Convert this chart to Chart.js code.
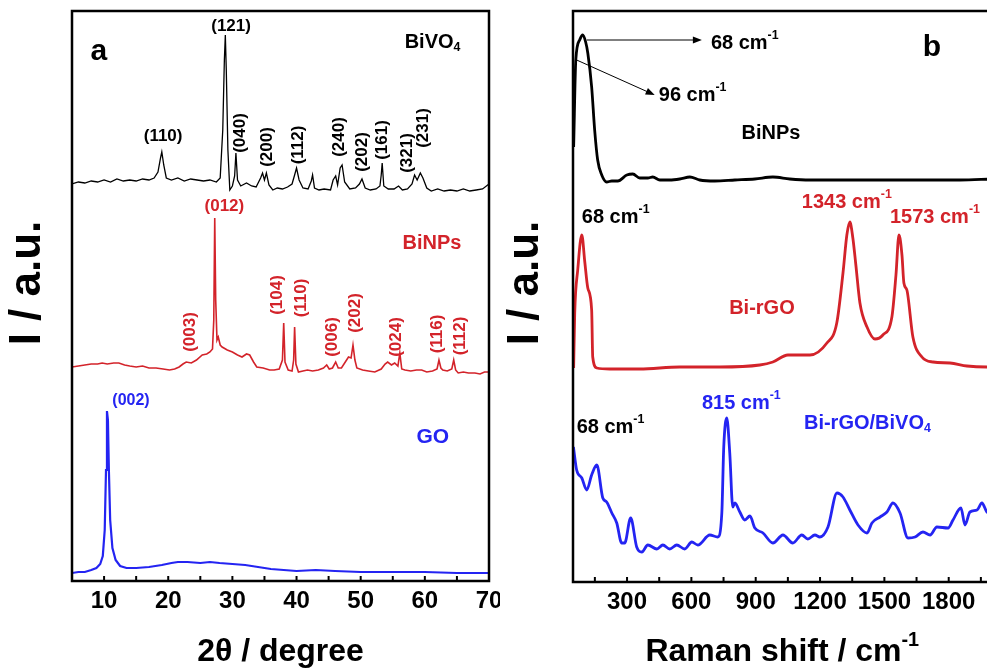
<!DOCTYPE html>
<html>
<head>
<meta charset="utf-8">
<script src="https://cdn.jsdelivr.net/npm/chart.js@4.4.1/dist/chart.umd.min.js"></script>
<style>
  html, body { margin: 0; padding: 0; background: #fff; overflow: hidden; width: 987px; height: 669px; }
  #left { position: absolute; left: 0; top: 0; }
  #right { position: absolute; left: 500px; top: 0; }
</style>
</head>
<body>
<canvas id="left" width="500" height="669"></canvas>
<canvas id="right" width="500" height="669"></canvas>
<script>
// (a) XRD - 2theta / degree, intensities offset per pattern (arbitrary units)
const xrdTicks = [10, 20, 30, 40, 50, 60, 70];

const bivo4Theta = [5, 6, 7, 8, 9, 10, 11, 12, 13, 14, 15, 16, 17, 17.8, 18.4, 18.8, 19.0, 19.3, 19.7, 20.5,
  21.5, 22.5, 23.5, 24.5, 25.5, 26.5, 27.5, 28.1, 28.5, 28.75, 28.9, 29.05, 29.3, 29.6, 30.0, 30.35,
  30.55, 30.8, 31.3, 32.2, 33.0, 33.7, 34.4, 34.7, 35.0, 35.3, 35.7, 36.3, 37.0, 37.8, 38.6, 39.3,
  39.7, 40.0, 40.4, 41.0, 41.8, 42.3, 42.5, 42.8, 43.5, 44.3, 45.3, 45.7, 46.1, 46.4, 46.8, 47.1,
  47.5, 48.3, 49.2, 49.8, 50.2, 50.7, 51.5, 52.4, 53.0, 53.2, 53.35, 53.6, 54.3, 55.2, 55.9, 56.5,
  57.3, 58.0, 58.4, 58.8, 59.3, 59.7, 60.3, 61, 62, 63, 64, 65, 66, 67, 68, 69, 70];
const bivo4I = [397, 399, 398, 400, 399, 401, 399, 402, 400, 401, 400, 402, 401, 403, 409, 423, 429, 416, 403, 401,
  403, 400, 402, 401, 400, 401, 399, 403, 451, 521, 546, 511, 431, 391, 395, 405,
  428, 401, 395, 398, 395, 394, 403, 408, 401, 408, 396, 391, 393, 392, 394, 397,
  406, 413, 401, 393, 392, 400, 406, 393, 391, 392, 391, 401, 405, 396, 413, 416,
  399, 392, 393, 397, 402, 393, 391, 392, 395, 406, 418, 395, 392, 392, 395, 391,
  392, 397, 406, 401, 408, 403, 393, 390, 392, 390, 391, 390, 392, 390, 391, 392, 397];

const binpsTheta = [5, 6, 7, 8, 9, 9.7, 10.5, 11.5, 12.3, 13.2, 14, 15, 16, 17, 18.1, 19.2, 20.2, 21, 21.7, 22.3,
  22.8, 23.6, 24.4, 25.3, 26.0, 26.5, 26.9, 27.1, 27.25, 27.4, 27.6, 27.8, 28.1, 28.4, 29.2, 30.0,
  30.8, 31.5, 32.2, 32.7, 33.3, 33.8, 34.8, 35.8, 36.5, 37.3, 37.8, 38.0, 38.2, 38.7, 39.3, 39.55,
  39.7, 39.9, 40.3, 41.0, 41.7, 42.5, 43.4, 44.2, 44.7, 45.1, 45.6, 46.1, 46.5, 47.0, 47.6, 48.1,
  48.5, 48.8, 49.1, 49.4, 50.3, 51.2, 52.2, 53.2, 53.8, 54.2, 54.8, 55.3, 55.8, 56.1, 56.4, 56.9,
  57.8, 58.7, 59.5, 60.3, 61.2, 61.9, 62.2, 62.5, 62.8, 63.5, 64.2, 64.5, 64.8, 65.2, 66.0, 66.8,
  67.8, 68.6, 69.3, 70];
const binpsI = [214, 215, 216, 217, 217, 218, 217, 218, 218, 216, 215, 214, 215, 213, 213, 212, 211, 212, 214, 217,
  219, 218, 221, 226, 227, 229, 232, 261, 363, 281, 241, 244, 236, 234, 231, 229,
  226, 224, 227, 226, 219, 214, 213, 211, 211, 212, 221, 258, 219, 211, 210, 221,
  254, 217, 209, 210, 211, 210, 211, 213, 216, 212, 213, 219, 213, 213, 219, 224,
  223, 236, 221, 213, 211, 210, 209, 212, 217, 219, 216, 218, 215, 228, 212, 211,
  210, 211, 211, 209, 210, 212, 221, 213, 211, 210, 212, 221, 211, 208, 209, 208,
  208, 207, 209, 209];

const goTheta = [5, 6, 7, 8, 8.8, 9.4, 9.8, 10.1, 10.3, 10.45, 10.6, 10.75, 10.95, 11.3, 11.8, 12.5, 13.5, 15, 17, 19,
  20.5, 21.5, 23, 25, 26.5, 28, 30, 32, 34, 36, 38, 40, 43, 46, 50, 55, 60, 65, 70];
const goI = [8, 9, 9, 11, 13, 17, 25, 51, 111, 170, 161, 111, 61, 33, 21, 15, 13, 13, 14, 16,
  18, 19, 19, 18, 19, 18, 17, 16, 14, 12, 11, 10, 11, 10, 9, 9, 9, 8, 8];

// (b) Raman - shift / cm-1
const ramanTicks = [300, 600, 900, 1200, 1500, 1800];

const ramanBiShift = [51, 61, 79, 93, 107, 117, 135, 149, 163, 182, 205, 229, 257, 299, 327, 359, 397, 420, 453, 499,
  546, 593, 639, 709, 803, 896, 980, 1059, 1153, 1293, 1433, 1573, 1713, 1853, 2000];
const ramanBiI = [435, 522, 542, 547, 540, 529, 495, 452, 422, 407, 400, 401, 401, 407, 408, 404, 404, 405, 402, 402,
  403, 405, 402, 401, 402, 403, 405, 403, 402, 402, 402, 402, 402, 402, 403];

const ramanBiRgoShift = [51, 56, 70, 89, 103, 117, 135, 140, 159, 219, 359, 546, 733, 919, 980, 1050, 1153, 1232, 1278, 1307,
  1325, 1339, 1353, 1367, 1386, 1419, 1456, 1493, 1535, 1554, 1568, 1582, 1591, 1605, 1633, 1675, 1727, 1806, 1885, 1978, 2000];
const ramanBiRgoI = [214, 269, 312, 347, 320, 294, 272, 225, 214, 213, 213, 215, 215, 217, 220, 227, 227, 239, 259, 309,
  347, 360, 344, 317, 279, 255, 243, 247, 265, 307, 347, 327, 299, 292, 245, 225, 220, 219, 216, 215, 215];

const ramanCompShift = [50, 65, 89, 112, 135, 159, 187, 205, 229, 252, 275, 289, 317, 345, 369, 397, 439, 467, 499, 532,
  569, 602, 630, 686, 723, 742, 751, 765, 779, 793, 803, 826, 849, 873, 896, 934, 980, 1027, 1073, 1115,
  1143, 1176, 1199, 1237, 1279, 1307, 1339, 1377, 1419, 1442, 1480, 1512, 1540, 1573, 1610, 1643, 1680, 1713, 1745, 1797,
  1820, 1857, 1876, 1899, 1932, 1955, 1978, 2000];
const ramanCompI = [135, 112, 104, 92, 107, 117, 84, 80, 69, 59, 39, 39, 64, 35, 30, 37, 33, 37, 33, 37,
  33, 40, 37, 47, 45, 69, 135, 164, 129, 75, 79, 70, 62, 66, 54, 49, 39, 47, 39, 47,
  43, 47, 45, 55, 89, 85, 72, 57, 49, 59, 65, 70, 79, 69, 44, 45, 50, 47, 55, 54,
  62, 74, 57, 70, 72, 79, 70, 68];

const BLACK = '#000000', RED = '#d3232a', BLUE = '#2424f2';
const FONT = '"Liberation Sans", Arial, sans-serif';

// labels placed in data units (x value, y intensity); '^' starts a superscript, '_' a subscript
const xrdNotes = [
  { text: 'a', x: 9.2, y: 529, size: 30, color: BLACK },
  { text: 'BiVO_4', x: 61.2, y: 539, size: 20, color: BLACK },
  { text: '(121)', x: 29.8, y: 555, size: 17, color: BLACK },
  { text: '(110)', x: 19.2, y: 445, size: 17, color: BLACK },
  { text: '(040)', x: 31.25, y: 448, size: 17, color: BLACK, rot: true },
  { text: '(200)', x: 35.5, y: 434, size: 17, color: BLACK, rot: true },
  { text: '(112)', x: 40.2, y: 436, size: 17, color: BLACK, rot: true },
  { text: '(240)', x: 46.6, y: 444, size: 17, color: BLACK, rot: true },
  { text: '(202)', x: 50.3, y: 429, size: 17, color: BLACK, rot: true },
  { text: '(161)', x: 53.4, y: 441, size: 17, color: BLACK, rot: true },
  { text: '(321)', x: 57.2, y: 428, size: 17, color: BLACK, rot: true },
  { text: '(231)', x: 59.8, y: 453, size: 17, color: BLACK, rot: true },
  { text: '(012)', x: 28.75, y: 375, size: 17, color: RED },
  { text: 'BiNPs', x: 61.1, y: 338, size: 20, color: RED },
  { text: '(003)', x: 23.4, y: 249, size: 17, color: RED, rot: true },
  { text: '(104)', x: 37.0, y: 286, size: 17, color: RED, rot: true },
  { text: '(110)', x: 40.8, y: 283, size: 17, color: RED, rot: true },
  { text: '(006)', x: 45.6, y: 244, size: 17, color: RED, rot: true },
  { text: '(202)', x: 49.1, y: 268, size: 17, color: RED, rot: true },
  { text: '(024)', x: 55.6, y: 244, size: 17, color: RED, rot: true },
  { text: '(116)', x: 61.9, y: 247, size: 17, color: RED, rot: true },
  { text: '(112)', x: 65.6, y: 245, size: 17, color: RED, rot: true },
  { text: '(002)', x: 14.2, y: 180, size: 16, color: BLUE },
  { text: 'GO', x: 61.25, y: 144, size: 21, color: BLUE }
];

const ramanNotes = [
  { text: 'b', x: 1722, y: 534, size: 30, color: BLACK },
  { text: '68 cm^-1', x: 691, y: 539, size: 20, color: BLACK, align: 'left' },
  { text: '96 cm^-1', x: 448, y: 487, size: 20, color: BLACK, align: 'left' },
  { text: 'BiNPs', x: 971, y: 449, size: 20, color: BLACK },
  { text: '68 cm^-1', x: 89, y: 365, size: 20, color: BLACK, align: 'left' },
  { text: '1343 cm^-1', x: 1115, y: 380, size: 20, color: RED, align: 'left' },
  { text: '1573 cm^-1', x: 1526, y: 365, size: 20, color: RED, align: 'left' },
  { text: 'Bi-rGO', x: 929, y: 274, size: 20, color: RED },
  { text: '68 cm^-1', x: 65, y: 155, size: 20, color: BLACK, align: 'left' },
  { text: '815 cm^-1', x: 649, y: 179, size: 20, color: BLUE, align: 'left' },
  { text: 'Bi-rGO/BiVO_4', x: 1125, y: 159, size: 20, color: BLUE, align: 'left' }
];

// arrows from the BiNPs bands to their labels, [x1, y1, x2, y2] in data units
const ramanArrows = [
  [112, 542, 649, 542],
  [65, 522, 429, 487]
];

function drawRich(ctx, text, px, py, size, color, align, rot) {
  const f = s => 'bold ' + s + 'px ' + FONT;
  let main = text, script = '', mode = null;
  const m = text.match(/^(.*?)([\^_])(.*)$/);
  if (m) { main = m[1]; mode = m[2]; script = m[3]; }
  ctx.font = f(size);
  const w1 = ctx.measureText(main).width;
  ctx.font = f(size * 0.62);
  const w2 = script ? ctx.measureText(script).width : 0;
  ctx.save();
  ctx.translate(px, py);
  if (rot) ctx.rotate(-Math.PI / 2);
  const x0 = align === 'left' ? 0 : -(w1 + w2) / 2;
  ctx.fillStyle = color;
  ctx.textAlign = 'left';
  ctx.textBaseline = 'middle';
  ctx.font = f(size);
  ctx.fillText(main, x0, 0);
  if (script) {
    ctx.font = f(size * 0.62);
    ctx.fillText(script, x0 + w1, mode === '^' ? -size * 0.36 : size * 0.3);
  }
  ctx.restore();
}

// frame, inward ticks, labels and axis titles
const decor = {
  id: 'decor',
  afterDraw(chart) {
    const o = chart.options.plugins.decor;
    const ctx = chart.ctx, a = chart.chartArea;
    const xs = chart.scales.x, ys = chart.scales.y;
    ctx.save();
    ctx.strokeStyle = BLACK;
    ctx.lineWidth = 2.5;
    ctx.strokeRect(a.left, a.top, a.right - a.left, a.bottom - a.top);
    // ticks every half step, pointing into the plot
    const step = o.ticks[1] - o.ticks[0];
    ctx.lineWidth = 2;
    for (let v = o.ticks[0] - step / 2; v < xs.max; v += step / 2) {
      if (v <= xs.min) continue;
      const p = xs.getPixelForValue(v);
      ctx.beginPath();
      ctx.moveTo(p, a.bottom);
      ctx.lineTo(p, a.bottom - 5);
      ctx.stroke();
    }
    (o.arrows || []).forEach(r => {
      const x1 = xs.getPixelForValue(r[0]), y1 = ys.getPixelForValue(r[1]);
      const x2 = xs.getPixelForValue(r[2]), y2 = ys.getPixelForValue(r[3]);
      const ang = Math.atan2(y2 - y1, x2 - x1);
      ctx.lineWidth = 1;
      ctx.beginPath();
      ctx.moveTo(x1, y1);
      ctx.lineTo(x2 - 7 * Math.cos(ang), y2 - 7 * Math.sin(ang));
      ctx.stroke();
      ctx.fillStyle = BLACK;
      ctx.beginPath();
      ctx.moveTo(x2, y2);
      ctx.lineTo(x2 - 9 * Math.cos(ang) + 3.5 * Math.sin(ang), y2 - 9 * Math.sin(ang) - 3.5 * Math.cos(ang));
      ctx.lineTo(x2 - 9 * Math.cos(ang) - 3.5 * Math.sin(ang), y2 - 9 * Math.sin(ang) + 3.5 * Math.cos(ang));
      ctx.closePath();
      ctx.fill();
    });
    o.notes.forEach(n => {
      drawRich(ctx, n.text, xs.getPixelForValue(n.x), ys.getPixelForValue(n.y),
        n.size, n.color, n.align, n.rot);
    });
    drawRich(ctx, o.xTitle, (a.left + a.right) / 2, 652, 32, BLACK, 'center', false);
    drawRich(ctx, 'I / a.u.', o.yTitleX, 283, 44, BLACK, 'center', true);
    ctx.restore();
  }
};

function series(xv, yv, color, width, smooth) {
  const ds = {
    data: xv.map((v, i) => ({ x: v, y: yv[i] })),
    borderColor: color,
    borderWidth: width,
    pointRadius: 0,
    fill: false,
    tension: 0
  };
  if (smooth) ds.cubicInterpolationMode = 'monotone';
  return ds;
}

function makeChart(id, datasets, xr, yMax, ticks, pad, axisW, plotBottom, deco) {
  return new Chart(document.getElementById(id), {
    type: 'line',
    data: { datasets: datasets },
    options: {
      responsive: false,
      animation: false,
      layout: { padding: pad },
      plugins: { legend: { display: false }, tooltip: { enabled: false }, decor: deco },
      scales: {
        x: {
          type: 'linear', min: xr[0], max: xr[1],
          grid: { display: false, drawTicks: false },
          border: { display: false },
          afterBuildTicks: s => { s.ticks = ticks.map(v => ({ value: v })); },
          afterFit: s => { s.height = 669 - plotBottom; s.paddingLeft = 0; s.paddingRight = 0; },
          ticks: { color: BLACK, padding: 6, maxRotation: 0, autoSkip: false,
                   callback: v => String(v),
                   font: { family: FONT, size: 24, weight: 'bold' } }
        },
        y: {
          min: 0, max: yMax,
          grid: { display: false, drawTicks: false },
          border: { display: false },
          ticks: { display: false },
          afterFit: s => { s.width = axisW; }
        }
      }
    },
    plugins: [decor]
  });
}

makeChart('left', [
  series(bivo4Theta, bivo4I, BLACK, 1.3),
  series(binpsTheta, binpsI, RED, 1.6),
  series(goTheta, goI, BLUE, 2.2)
], [5, 70], 570, xrdTicks, { top: 11, right: 11, left: 0, bottom: 0 }, 72, 581,
  { ticks: xrdTicks, notes: xrdNotes, xTitle: '2θ / degree', yTitleX: 28 });

makeChart('right', [
  series(ramanBiShift, ramanBiI, BLACK, 2.8, true),
  series(ramanBiRgoShift, ramanBiRgoI, RED, 2.8, true),
  series(ramanCompShift, ramanCompI, BLUE, 2.8, true)
], [48, 2000], 571, ramanTicks, { top: 11, right: 8.4, left: 0, bottom: 0 }, 73, 582,
  { ticks: ramanTicks, notes: ramanNotes, arrows: ramanArrows, xTitle: 'Raman shift / cm^-1', yTitleX: 26 });
</script>
</body>
</html>
